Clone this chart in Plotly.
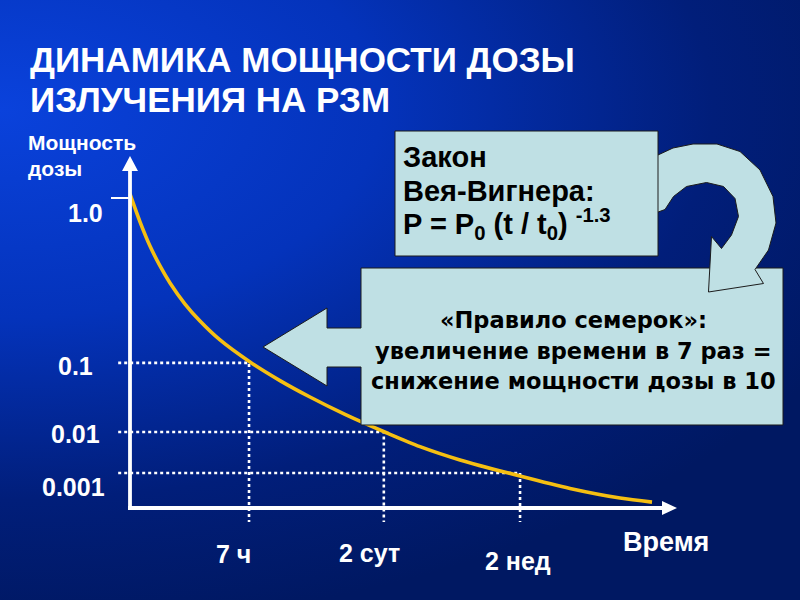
import math
import base64
import plotly.graph_objects as go

# ---------------- data ----------------
curve_time_h = [1.278, 1.475, 1.701, 1.963, 2.264, 2.805, 3.475, 4.624, 7.099, 10.89,
                16.72, 27.57, 50.23, 80.5, 142.5, 335.7, 686, 1401, 2213]
curve_level = [1.013, 0.923, 0.845, 0.781, 0.726, 0.658, 0.603, 0.542, 0.471, 0.411,
               0.358, 0.302, 0.242, 0.198, 0.155, 0.103, 0.063, 0.032, 0.019]

dose_labels = ["1.0", "0.1", "0.01", "0.001"]
dose_levels = [1.0, 0.468, 0.245, 0.113]

time_labels = ["7 ч", "2 сут", "2 нед"]
time_marks_h = [7, 48, 336]

guide_start_h = 1.08
guide_bottom_level = -0.045

title_lines = ["ДИНАМИКА МОЩНОСТИ ДОЗЫ", "ИЗЛУЧЕНИЯ НА РЗМ"]
axis_title_lines = ["Мощность", "дозы"]
law_lines = ["Закон", "Вея-Вигнера:", "P = P<sub>0</sub> (t / t<sub>0</sub>) <sup>-1.3</sup>"]
rule_lines = ["«Правило семерок»:", "увеличение времени в 7 раз =", "снижение мощности дозы в 10"]

# ---------------- helpers (layout only) ----------------
W, H = 800, 600
def px(x):
    return x / W
def py(y):
    return 1 - y / H
def path(points, close=True):
    s = "M " + " L ".join(f"{px(x):.5f},{py(y):.5f}" for x, y in points)
    return s + (" Z" if close else "")

X_RANGE = [(0 - 112.8) / 161.2, (800 - 112.8) / 161.2]
Y_RANGE = [(508 - 600) / 310, (508 - 0) / 310]

BOX_FILL = "#bfe0e4"
BOX_LINE = "#1c1c1c"
CURVE = "#f5bf12"

# background gradient (style)
svg = (
    "<svg xmlns='http://www.w3.org/2000/svg' width='800' height='600'>"
    "<defs><radialGradient id='g' gradientUnits='userSpaceOnUse' cx='0' cy='0' r='1' "
    "gradientTransform='translate(0 110) scale(950 520)'>"
    "<stop offset='0' stop-color='#0a42dc'/>"
    "<stop offset='0.4' stop-color='#0433bb'/>"
    "<stop offset='0.75' stop-color='#011e7a'/>"
    "<stop offset='1' stop-color='#001862'/>"
    "</radialGradient></defs>"
    "<rect width='800' height='600' fill='url(#g)'/></svg>"
)
bg_uri = "data:image/svg+xml;base64," + base64.b64encode(svg.encode()).decode()

fig = go.Figure()

# dotted guide lines
for t, lv in zip(time_marks_h, dose_levels[1:]):
    fig.add_trace(go.Scatter(
        x=[guide_start_h, t, t], y=[lv, lv, guide_bottom_level],
        mode="lines", line=dict(color="white", width=2.6, dash="dot"),
        hoverinfo="skip", showlegend=False))

# main curve
fig.add_trace(go.Scatter(
    x=curve_time_h, y=curve_level, mode="lines",
    line=dict(color=CURVE, width=3.6, shape="spline", smoothing=0.8),
    showlegend=False, hoverinfo="skip"))

shapes = []
# axes with arrows
shapes.append(dict(type="line", xref="paper", yref="paper",
                   x0=px(130), y0=py(510), x1=px(130), y1=py(168),
                   line=dict(color="white", width=3.8), layer="above"))
shapes.append(dict(type="path", xref="paper", yref="paper",
                   path=path([(122, 171), (138, 171), (130, 156)]),
                   fillcolor="white", line=dict(width=0), layer="above"))
shapes.append(dict(type="line", xref="paper", yref="paper",
                   x0=px(128), y0=py(508), x1=px(664), y1=py(508),
                   line=dict(color="white", width=3.8), layer="above"))
shapes.append(dict(type="path", xref="paper", yref="paper",
                   path=path([(662, 501), (662, 515), (677, 508)]),
                   fillcolor="white", line=dict(width=0), layer="above"))
shapes.append(dict(type="line", xref="paper", yref="paper",
                   x0=px(111), y0=py(198), x1=px(130), y1=py(198),
                   line=dict(color="white", width=2), layer="above"))

# rule box with left-pointing arrow
shapes.append(dict(type="path", xref="paper", yref="paper",
                   path=path([(361, 268), (783, 268), (783, 425), (361, 425), (361, 367),
                              (327, 367), (327, 386), (263, 347), (327, 308), (327, 328),
                              (361, 328)]),
                   fillcolor=BOX_FILL, line=dict(color=BOX_LINE, width=1), layer="above"))

# curved arrow
curl = [(650, 158), (658, 155), (673, 148), (693, 144), (717, 144), (740, 151.5),
        (760, 170), (773, 196.5), (776, 223), (768.5, 250), (755, 269.5),
        (763.5, 283.5), (708.5, 292), (711.5, 236.5), (721.5, 248.5), (731.5, 235),
        (738.5, 216.5), (735, 198.5), (723.5, 186.5), (706.5, 182.5), (686.5, 186.5),
        (673.5, 196.5), (665, 209.5), (650, 215)]
shapes.append(dict(type="path", xref="paper", yref="paper", path=path(curl),
                   fillcolor=BOX_FILL, line=dict(color=BOX_LINE, width=1), layer="above"))

# law box
shapes.append(dict(type="rect", xref="paper", yref="paper",
                   x0=px(395), y0=py(256), x1=px(658), y1=py(131),
                   fillcolor=BOX_FILL, line=dict(color=BOX_LINE, width=1), layer="above"))

ann = []
BOLD = "Liberation Sans, Arial, sans-serif"
# title
for txt, yc in zip(title_lines, [60, 99]):
    ann.append(dict(text=f"<b>{txt}</b>", xref="paper", yref="paper", x=px(28), y=py(yc),
                    xanchor="left", yanchor="middle", showarrow=False,
                    font=dict(family=BOLD, size=35, color="white")))
# y axis title
for txt, yc in zip(axis_title_lines, [143, 168]):
    ann.append(dict(text=f"<b>{txt}</b>", xref="paper", yref="paper", x=px(26), y=py(yc),
                    xanchor="left", yanchor="middle", showarrow=False,
                    font=dict(family=BOLD, size=21, color="white")))
# y labels
for txt, lv, xc, ys in zip(dose_labels, dose_levels, [85, 75, 75, 73], [-15, -3, -2, -14]):
    ann.append(dict(text=f"<b>{txt}</b>", xref="paper", yref="y", x=px(xc), y=lv,
                    yshift=ys, xanchor="center", yanchor="middle", showarrow=False,
                    font=dict(family=BOLD, size=25, color="white")))
# time labels
for txt, t, xs, yc in zip(time_labels, time_marks_h, [-16, -14, -2], [554, 553, 561]):
    ann.append(dict(text=f"<b>{txt}</b>", xref="x", yref="paper", x=math.log10(t), y=py(yc),
                    xshift=xs, xanchor="center", yanchor="middle", showarrow=False,
                    font=dict(family=BOLD, size=25, color="white")))
ann.append(dict(text="<b>Время</b>", xref="paper", yref="paper", x=px(666), y=py(542),
                xanchor="center", yanchor="middle", showarrow=False,
                font=dict(family=BOLD, size=27, color="white")))
# law text
for txt, yc in zip(law_lines, [157, 191, 224]):
    ann.append(dict(text=f"<b>{txt}</b>", xref="paper", yref="paper", x=px(401), y=py(yc),
                    xanchor="left", yanchor="middle", showarrow=False,
                    font=dict(family=BOLD, size=29, color="black")))
# rule text
for txt, yc in zip(rule_lines, [320, 351, 381]):
    ann.append(dict(text=f"<b>{txt}</b>", xref="paper", yref="paper", x=px(573), y=py(yc),
                    xanchor="center", yanchor="middle", showarrow=False,
                    font=dict(family="DejaVu Sans, Verdana, sans-serif", size=22.5, color="black")))

fig.update_layout(
    width=W, height=H, autosize=False,
    margin=dict(l=0, r=0, t=0, b=0),
    paper_bgcolor="#001862", plot_bgcolor="rgba(0,0,0,0)",
    xaxis=dict(type="log", range=X_RANGE, visible=False, fixedrange=True),
    yaxis=dict(range=Y_RANGE, visible=False, fixedrange=True),
    shapes=shapes, annotations=ann,
    images=[dict(source=bg_uri, xref="paper", yref="paper", x=0, y=1, sizex=1, sizey=1,
                 sizing="stretch", xanchor="left", yanchor="top", layer="below")],
)

fig.write_html("out.html", config={"displayModeBar": False, "staticPlot": True},
               post_script="document.body.style.margin='0';document.body.style.overflow='hidden';")
